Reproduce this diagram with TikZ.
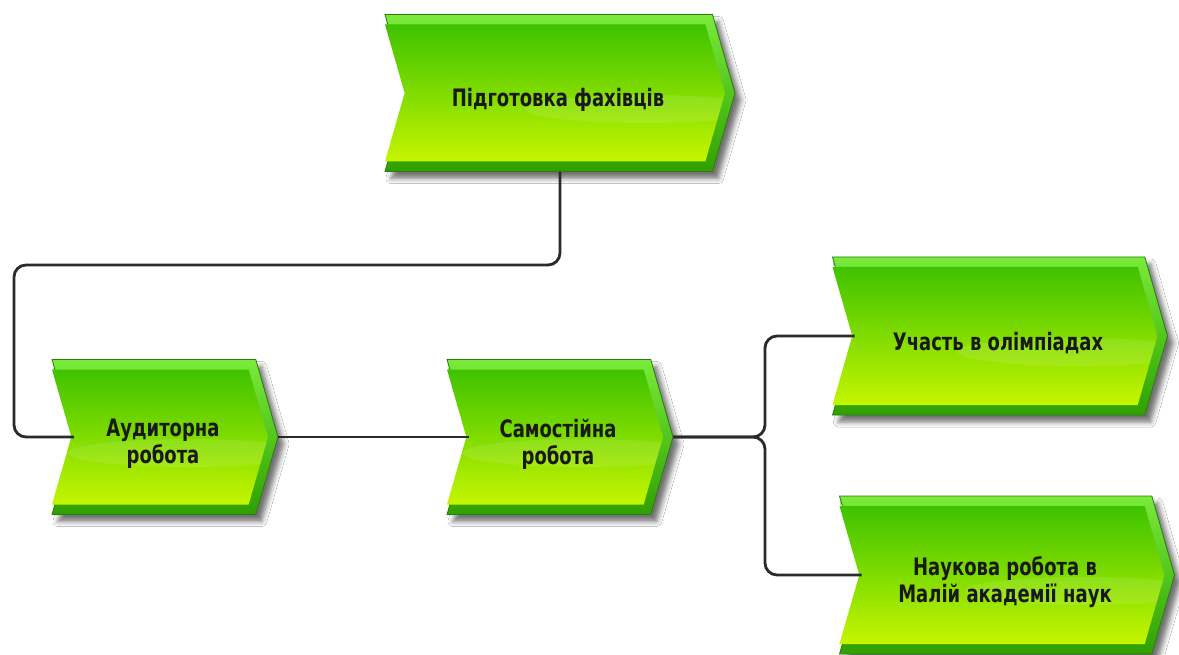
\documentclass[tikz,border=0pt]{standalone}
\usepackage{fontspec}
\newfontfamily\lblfont{DejaVu Sans}[FakeStretch=0.75]
\usetikzlibrary{shapes.symbols,shadows.blur,calc}
\definecolor{gtop}{HTML}{3FC200}
\definecolor{gmid}{HTML}{80DC00}
\definecolor{gbot}{HTML}{C6F500}
\definecolor{bevtop}{HTML}{7AEB3A}
\definecolor{bevbot}{HTML}{2FA000}
\definecolor{edge}{HTML}{2A7A10}
\definecolor{wire}{HTML}{2A2A2A}
\tikzset{
  chevout/.style={shape=signal, signal from=west, signal to=east, signal pointer angle=148,
    draw=edge, line width=0.8pt, top color=bevtop, bottom color=bevbot, inner sep=0pt,
    blur shadow={shadow xshift=6pt, shadow yshift=-7pt, shadow blur radius=5pt, shadow opacity=55}},
  chevin/.style={shape=signal, signal from=west, signal to=east, signal pointer angle=148,
    top color=gtop, bottom color=gbot, middle color=gmid, inner sep=0pt,
    path picture={\fill[white,opacity=.10] ($(path picture bounding box.east)+(-80pt,-16pt)$) ellipse [x radius=120pt, y radius=14pt];}},
  lbl/.style={font=\lblfont\bfseries\fontsize{24}{27}\selectfont, text=black!90, align=center, inner sep=0pt},
  conn/.style={draw=wire, line width=2.8pt, rounded corners=12pt},
}
\newcommand\chevnode[6]{%
  \node[chevout, minimum width=#4pt, minimum height=#5pt] (#1) at (#2,#3) {};
  \node[chevin, minimum width=#4pt-10pt, minimum height=#5pt-20pt] (#1face) at (#2-5,#3) {};
  \node[lbl] (#1text) at (#2-2,#3+7) {#6};
}
\begin{document}
\begin{tikzpicture}[x=1pt,y=-1pt]
  \clip (0,0) rectangle (1179,655);
  \fill[white] (0,0) rectangle (1179,655);
  \chevnode{top}{560}{93}{350}{157}{Підготовка фахівців}
  \chevnode{aud}{165}{437}{226}{155}{Аудиторна\\робота}
  \chevnode{sam}{560}{437}{226}{155}{Самостійна\\робота}
  \chevnode{uch}{1000}{336}{335}{158}{Участь в олімпіадах}
  \chevnode{nauk}{1007}{575}{335}{158}{Наукова робота в\\Малій академії наук}
  \coordinate (c1) at (14,265);
  \coordinate (j) at (765,437);
  \draw[conn] (top.south) |- (c1) |- (aud.west);
  \draw[conn] (aud.east) -- (sam.west);
  \draw[conn] (sam.east) -- (j) |- (uch.west);
  \draw[conn] (sam.east) -- (j) |- (nauk.west);
\end{tikzpicture}
\end{document}
